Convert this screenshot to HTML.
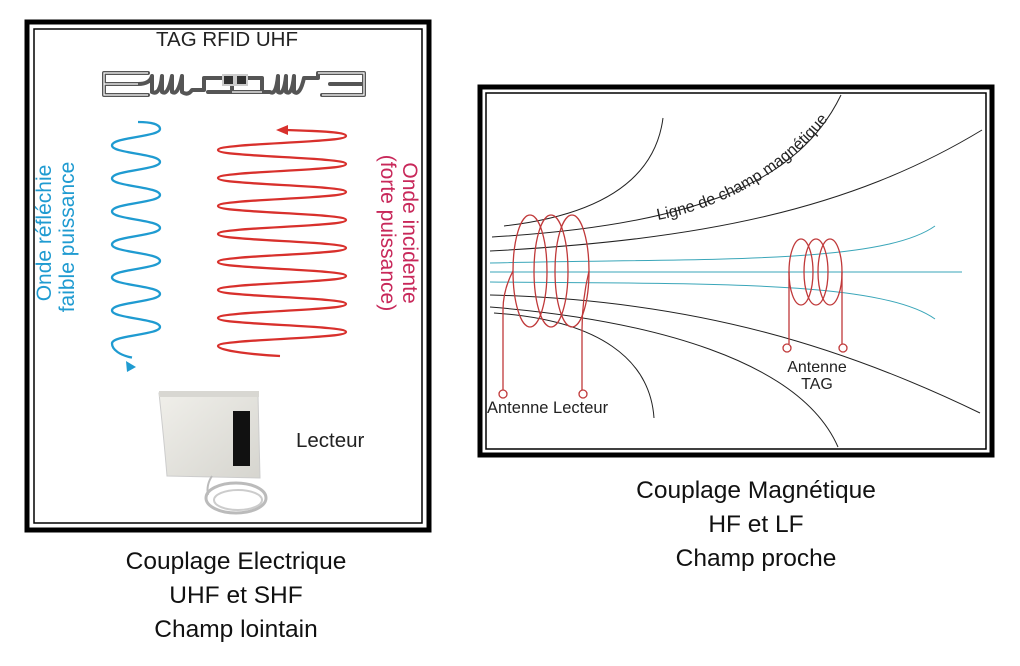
<!DOCTYPE html>
<html><head><meta charset="utf-8"><style>
html,body{margin:0;padding:0;background:#fff;}
body{width:1020px;height:666px;position:relative;overflow:hidden;font-family:"Liberation Sans",sans-serif;}
.cap{position:absolute;text-align:center;font-size:24.5px;line-height:34px;color:#111;}
</style></head><body>
<svg width="1020" height="666" style="position:absolute;left:0;top:0" xmlns="http://www.w3.org/2000/svg">
<!-- Left frame -->
<rect x="27" y="22" width="402" height="508" fill="none" stroke="#000" stroke-width="5"/>
<rect x="34" y="29" width="388" height="494" fill="none" stroke="#000" stroke-width="1.5"/>
<text x="227" y="46" font-size="20.5" text-anchor="middle" fill="#222" font-family="Liberation Sans">TAG RFID UHF</text>
<!-- tag antenna -->
<g fill="none" stroke="#555" stroke-width="4" stroke-linejoin="round" stroke-linecap="round">
<path d="M148,73 H104 V95 H148 M104,84 H138 Q150,84 152,76 V92 M152,92 Q160,96 162,76 V92 Q168,96 172,76 V92 Q178,96 182,76 V92 Q188,96 192,90 H204 V78 H232 V92 H208 M232,84 H240 M240,84 V78 H262 V92 H232 M262,92 H270 Q276,96 278,76 V92 Q284,96 286,76 V92 Q292,96 294,76 V92 Q300,96 304,78 H318 V73 H364 V95 H322 M364,84 H330"/>
</g>
<g fill="none" stroke="#fff" stroke-width="1.2">
<path d="M148,73 H104 V95 H148 M104,84 H138 M262,92 H232 M318,73 H364 V95 H322"/>
</g>
<rect x="222" y="74" width="26" height="12" fill="#ccc"/>
<rect x="224" y="76" width="9" height="8" fill="#333"/><rect x="237" y="76" width="9" height="8" fill="#333"/>
<!-- blue wave -->
<path fill="none" stroke="#1f9bd1" stroke-width="2.3" d="M138,122 C150,122 160,124 160,129
c 0,8 -48,8 -48,16.5 c 0,8 48,8 48,16.5
c 0,8 -48,8 -48,16.5 c 0,8 48,8 48,16.5
c 0,8 -48,8 -48,16.5 c 0,8 48,8 48,16.5
c 0,8 -48,8 -48,16.5 c 0,8 48,8 48,16.5
c 0,8 -48,8 -48,16.5 c 0,8 48,8 48,16.5
c 0,8 -48,8 -48,16.5 c 0,8 48,8 48,16.5
c 0,8 -48,8 -48,16.5 c 0,6 8,12 20,14"/>
<polygon points="136,367 126,361 127,372" fill="#1f9bd1"/>
<!-- red wave -->
<path fill="none" stroke="#d8302c" stroke-width="2.3" d="M286,130 C320,131 346,132 346,136
c 0,7 -128,7 -128,14 c 0,7 128,7 128,14
c 0,7 -128,7 -128,14 c 0,7 128,7 128,14
c 0,7 -128,7 -128,14 c 0,7 128,7 128,14
c 0,7 -128,7 -128,14 c 0,7 128,7 128,14
c 0,7 -128,7 -128,14 c 0,7 128,7 128,14
c 0,7 -128,7 -128,14 c 0,7 128,7 128,14
c 0,7 -128,7 -128,14 c 0,7 128,7 128,14
c 0,7 -128,7 -128,14 c 0,5 40,9 62,10"/>
<polygon points="276,130 288,125 288,135" fill="#d8302c"/>
<!-- rotated labels -->
<text transform="translate(51,233) rotate(-90)" text-anchor="middle" font-size="21" fill="#1f9bd1" font-family="Liberation Sans">Onde réfléchie</text>
<text transform="translate(74,237) rotate(-90)" text-anchor="middle" font-size="21" fill="#1f9bd1" font-family="Liberation Sans">faible puissance</text>
<text transform="translate(403,233) rotate(90)" text-anchor="middle" font-size="21" fill="#c8285a" font-family="Liberation Sans">Onde incidente</text>
<text transform="translate(381,233) rotate(90)" text-anchor="middle" font-size="21" fill="#c8285a" font-family="Liberation Sans">(forte puissance)</text>
<!-- reader -->
<defs><linearGradient id="g" x1="0" y1="0" x2="1" y2="1"><stop offset="0" stop-color="#f0efea"/><stop offset="1" stop-color="#d6d5cf"/></linearGradient></defs>
<path d="M159,393 L258,395 L260,478 L167,476 Q164,440 159,393Z" fill="url(#g)" stroke="#ccc"/>
<rect x="159" y="391" width="100" height="6" fill="#d8d7d2"/>
<rect x="233" y="411" width="17" height="55" fill="#111"/>
<ellipse cx="236" cy="498" rx="30" ry="15" fill="none" stroke="#bbb" stroke-width="3"/>
<ellipse cx="238" cy="500" rx="24" ry="10" fill="none" stroke="#ccc" stroke-width="2"/>
<path d="M212,476 Q206,485 208,495" fill="none" stroke="#bbb" stroke-width="2"/>
<text x="296" y="447" font-size="20.5" fill="#222" font-family="Liberation Sans">Lecteur</text>

<!-- Right frame -->
<rect x="480" y="87" width="512" height="368" fill="none" stroke="#000" stroke-width="5"/>
<rect x="486" y="93" width="500" height="356" fill="none" stroke="#000" stroke-width="1.5"/>
<g fill="none" stroke="#222" stroke-width="1">
<path d="M663,118 C655,180 600,215 504,226"/>
<path d="M841,95 C800,180 700,225 492,237"/>
<path d="M982,130 C850,210 700,240 490,251"/>
<path d="M490,295 C700,300 850,350 980,413"/>
<path d="M490,307 C650,320 800,360 838,447"/>
<path d="M494,313 C600,320 650,360 654,418"/>
</g>
<g fill="none" stroke="#3aa6b9" stroke-width="1">
<path d="M490,263 C700,258 880,265 935,226"/>
<path d="M490,272 H962"/>
<path d="M490,282 C700,284 880,280 935,319"/>
</g>
<g fill="none" stroke="#c0393a" stroke-width="1.3">
<ellipse cx="530" cy="271" rx="17" ry="56"/>
<ellipse cx="551" cy="271" rx="17" ry="56"/>
<ellipse cx="572" cy="271" rx="17" ry="56"/>
<path d="M513,271 Q503,290 503,310 V390"/>
<path d="M589,271 Q582,300 582,330 V390"/>
<circle cx="503" cy="394" r="4"/><circle cx="583" cy="394" r="4"/>
<ellipse cx="801" cy="272" rx="12" ry="33"/>
<ellipse cx="816" cy="272" rx="12" ry="33"/>
<ellipse cx="830" cy="272" rx="12" ry="33"/>
<path d="M789,272 V344"/><path d="M842,272 V344"/>
<circle cx="787" cy="348" r="4"/><circle cx="843" cy="348" r="4"/>
</g>
<path id="lp" d="M658,220 C720,208 792,175 842,100" fill="none"/>
<text font-size="16" fill="#222" font-family="Liberation Sans"><textPath href="#lp">Ligne de champ magnétique</textPath></text>
<text x="487" y="413" font-size="16.5" fill="#222" font-family="Liberation Sans">Antenne Lecteur</text>
<text x="817" y="372" font-size="16" fill="#222" text-anchor="middle" font-family="Liberation Sans">Antenne</text>
<text x="817" y="389" font-size="16" fill="#222" text-anchor="middle" font-family="Liberation Sans">TAG</text>
</svg>
<div class="cap" style="left:86px;top:545px;width:300px;">Couplage Electrique<br>UHF et SHF<br>Champ lointain</div>
<div class="cap" style="left:606px;top:474px;width:300px;">Couplage Magnétique<br>HF et LF<br>Champ proche</div>
</body></html>
